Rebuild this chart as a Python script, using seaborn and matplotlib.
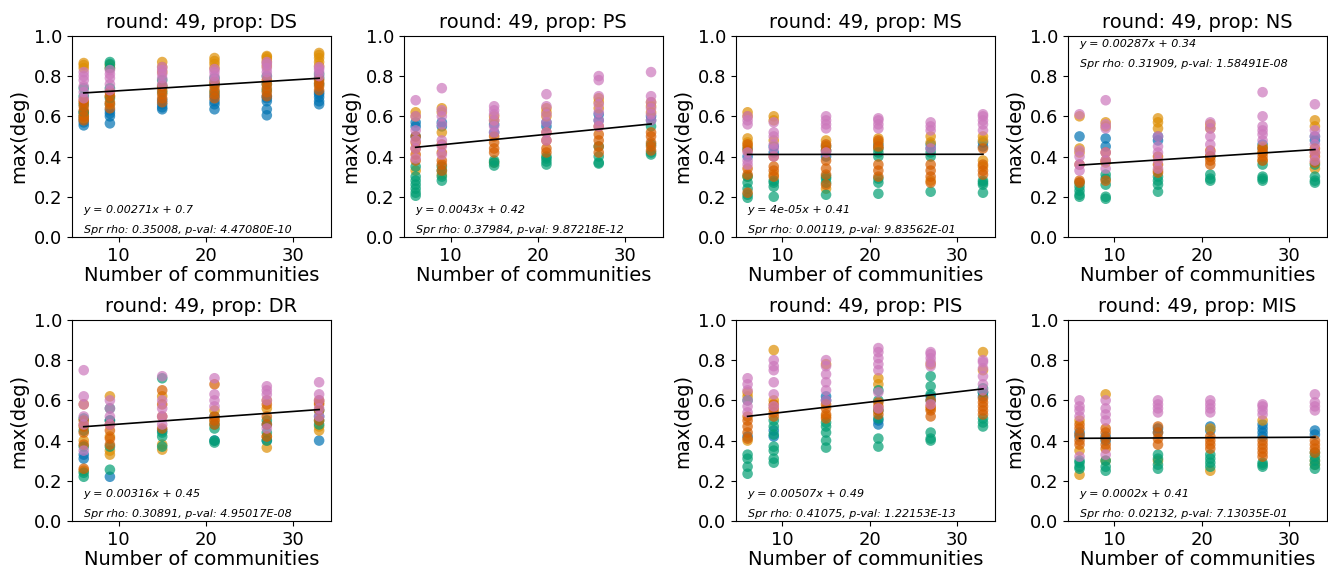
import matplotlib
matplotlib.use('Agg')
import matplotlib.pyplot as plt
import numpy as np
import pandas as pd
import seaborn as sns

# number of communities on the x axis
N_COMM = [6, 9, 15, 21, 27, 33]
SERIES = ['s1', 's2', 's3', 's4', 's5']

# max(deg) values, one sub-list per x value
DS_S1 = [[0.555, 0.57, 0.585, 0.60, 0.62], [0.565, 0.60, 0.615, 0.63, 0.66], [0.635, 0.645, 0.66, 0.68],
         [0.635, 0.66, 0.675, 0.70], [0.605, 0.635, 0.675, 0.69, 0.70], [0.66, 0.675, 0.695, 0.71, 0.72]]
DS_S2 = [[0.59, 0.61, 0.84, 0.855, 0.865], [0.66, 0.70, 0.84, 0.855], [0.82, 0.845, 0.87],
         [0.84, 0.86, 0.875, 0.89], [0.85, 0.87, 0.885, 0.895, 0.90], [0.85, 0.87, 0.89, 0.905, 0.915]]
DS_S3 = [[0.62, 0.66, 0.70, 0.74], [0.69, 0.74, 0.84, 0.86, 0.87], [0.72, 0.75, 0.78],
         [0.72, 0.76, 0.79], [0.73, 0.76, 0.80], [0.76, 0.79, 0.81]]
DS_S4 = [[0.58, 0.60, 0.63, 0.65, 0.67, 0.68], [0.64, 0.67, 0.70, 0.72], [0.67, 0.69, 0.71, 0.73, 0.75],
         [0.69, 0.71, 0.73, 0.75, 0.77], [0.70, 0.72, 0.74, 0.76, 0.78], [0.73, 0.75, 0.765, 0.78]]
DS_S5 = [[0.69, 0.72, 0.75, 0.78, 0.80, 0.82], [0.73, 0.76, 0.79, 0.81, 0.83], [0.76, 0.79, 0.81, 0.83, 0.845],
         [0.78, 0.80, 0.82, 0.835], [0.80, 0.82, 0.84, 0.86, 0.87], [0.80, 0.82, 0.835, 0.845]]

PS_S1 = [[0.50, 0.55, 0.57], [0.55, 0.57], [0.52, 0.56], [0.55, 0.57], [0.58, 0.61], [0.58, 0.60]]
PS_S2 = [[0.33, 0.60, 0.62], [0.31, 0.52, 0.62, 0.64], [0.37, 0.58, 0.60],
         [0.60, 0.62, 0.64], [0.64, 0.67, 0.69], [0.62, 0.65, 0.67]]
PS_S3 = [[0.205, 0.22, 0.24, 0.26, 0.28, 0.30, 0.35], [0.28, 0.30, 0.33, 0.35], [0.355, 0.37, 0.38],
         [0.36, 0.375, 0.39, 0.40], [0.365, 0.37, 0.40, 0.45], [0.41, 0.42, 0.46, 0.55]]
PS_S4 = [[0.38, 0.41, 0.44, 0.47, 0.50], [0.33, 0.36, 0.38, 0.42, 0.46], [0.42, 0.44, 0.47, 0.50],
         [0.42, 0.44, 0.48, 0.52], [0.42, 0.45, 0.48, 0.51, 0.55], [0.43, 0.45, 0.47, 0.50, 0.52]]
PS_S5 = [[0.39, 0.44, 0.48, 0.53, 0.60, 0.68], [0.41, 0.45, 0.48, 0.56, 0.60, 0.63, 0.74],
         [0.52, 0.55, 0.58, 0.61, 0.63, 0.65], [0.48, 0.52, 0.57, 0.61, 0.65, 0.71],
         [0.55, 0.58, 0.62, 0.66, 0.70, 0.78, 0.80], [0.58, 0.61, 0.64, 0.67, 0.70, 0.82]]

MS_S1 = [[0.40, 0.44], [0.42, 0.45], [0.40, 0.43, 0.45], [0.44, 0.46], [0.44, 0.46], [0.45, 0.47]]
MS_S2 = [[0.30, 0.45, 0.47, 0.49, 0.60, 0.62], [0.31, 0.48, 0.58, 0.60], [0.24, 0.45, 0.48],
         [0.44, 0.47, 0.49], [0.28, 0.47, 0.50], [0.35, 0.38, 0.48, 0.50]]
MS_S3 = [[0.195, 0.21, 0.24, 0.27, 0.30], [0.20, 0.25, 0.27, 0.28], [0.21, 0.27, 0.29, 0.30],
         [0.215, 0.27, 0.29, 0.40, 0.42], [0.225, 0.40, 0.42], [0.22, 0.26, 0.27, 0.28]]
MS_S4 = [[0.22, 0.31, 0.34, 0.43, 0.46], [0.30, 0.33, 0.35, 0.40], [0.26, 0.31, 0.34, 0.38, 0.43, 0.46],
         [0.30, 0.33, 0.36, 0.45, 0.48], [0.27, 0.30, 0.33, 0.36], [0.31, 0.33, 0.36, 0.44]]
MS_S5 = [[0.36, 0.38, 0.42, 0.56, 0.58, 0.60], [0.40, 0.44, 0.46, 0.50, 0.52, 0.57],
         [0.42, 0.54, 0.56, 0.58, 0.60], [0.54, 0.56, 0.58, 0.59], [0.44, 0.53, 0.55, 0.57],
         [0.53, 0.56, 0.58, 0.60, 0.61]]

NS_S1 = [[0.50], [0.45, 0.49], [0.48, 0.50], [0.40], [0.44, 0.46], [0.48, 0.50]]
NS_S2 = [[0.42, 0.44, 0.60], [0.37, 0.55, 0.57], [0.33, 0.54, 0.57, 0.59],
         [0.40, 0.54, 0.56], [0.38, 0.42, 0.45], [0.34, 0.55, 0.58]]
NS_S3 = [[0.20, 0.21, 0.23, 0.25, 0.27], [0.19, 0.20, 0.26, 0.29, 0.31], [0.225, 0.26, 0.28, 0.30],
         [0.28, 0.29, 0.31], [0.28, 0.29, 0.30, 0.36], [0.27, 0.28, 0.30, 0.36]]
NS_S4 = [[0.27, 0.28, 0.36], [0.28, 0.38, 0.42], [0.32, 0.36, 0.40],
         [0.36, 0.38, 0.40, 0.43], [0.38, 0.40, 0.42, 0.44], [0.37, 0.40, 0.42, 0.44]]
NS_S5 = [[0.33, 0.36, 0.40, 0.43, 0.61], [0.34, 0.38, 0.42, 0.54, 0.56, 0.68], [0.34, 0.38, 0.42, 0.45, 0.50],
         [0.42, 0.46, 0.50, 0.54, 0.57], [0.48, 0.51, 0.53, 0.55, 0.60, 0.72],
         [0.38, 0.42, 0.46, 0.50, 0.53, 0.66]]

DR_S1 = [[0.31, 0.33], [0.22, 0.50], [0.45], [0.40, 0.52], [0.40, 0.48], [0.40, 0.52]]
DR_S2 = [[0.25, 0.40, 0.48, 0.58], [0.33, 0.35, 0.42, 0.62], [0.355, 0.38, 0.62],
         [0.50, 0.55], [0.365, 0.42, 0.56, 0.60], [0.45, 0.47, 0.59]]
DR_S3 = [[0.22, 0.24, 0.37, 0.45, 0.51], [0.255, 0.37, 0.50, 0.56], [0.37, 0.42, 0.44, 0.71],
         [0.39, 0.40, 0.46, 0.48], [0.40, 0.44, 0.50], [0.48, 0.50, 0.55]]
DR_S4 = [[0.26, 0.38, 0.44, 0.47, 0.50], [0.38, 0.41, 0.45, 0.48], [0.46, 0.52, 0.58, 0.65],
         [0.48, 0.50, 0.52, 0.68], [0.42, 0.48, 0.52, 0.58], [0.50, 0.55, 0.58, 0.60]]
DR_S5 = [[0.35, 0.48, 0.52, 0.58, 0.62, 0.75], [0.48, 0.52, 0.56, 0.60], [0.48, 0.52, 0.56, 0.60, 0.72],
         [0.57, 0.60, 0.63, 0.71], [0.46, 0.60, 0.63, 0.65, 0.67], [0.52, 0.56, 0.60, 0.63, 0.69]]

PIS_S1 = [[0.42], [0.42, 0.45], [0.60, 0.62], [0.48, 0.50], [0.60, 0.62], [0.62, 0.64]]
PIS_S2 = [[0.40, 0.62, 0.64], [0.60, 0.85], [0.52, 0.78], [0.68, 0.71], [0.56, 0.78], [0.75, 0.84]]
PIS_S3 = [[0.235, 0.27, 0.31, 0.33, 0.60], [0.29, 0.31, 0.35, 0.37, 0.43, 0.47, 0.50],
          [0.365, 0.40, 0.44, 0.47, 0.49], [0.37, 0.41, 0.51, 0.55, 0.60, 0.65],
          [0.40, 0.41, 0.44, 0.63, 0.67, 0.72], [0.47, 0.49, 0.51, 0.64, 0.66]]
PIS_S4 = [[0.41, 0.44, 0.47, 0.50, 0.52], [0.52, 0.54, 0.56, 0.58], [0.51, 0.53, 0.56, 0.58],
          [0.53, 0.55, 0.57, 0.59], [0.52, 0.55, 0.57, 0.60], [0.53, 0.55, 0.57, 0.59, 0.61]]
PIS_S5 = [[0.54, 0.57, 0.60, 0.65, 0.68, 0.71], [0.57, 0.63, 0.69, 0.75, 0.77, 0.80],
          [0.60, 0.65, 0.69, 0.73, 0.77, 0.80], [0.56, 0.64, 0.75, 0.78, 0.81, 0.84, 0.86],
          [0.58, 0.77, 0.79, 0.81, 0.83, 0.84], [0.65, 0.68, 0.72, 0.76, 0.79, 0.80]]

MIS_S1 = [[0.42, 0.44], [0.40, 0.42], [0.44, 0.46], [0.45, 0.47], [0.42, 0.44, 0.46, 0.48], [0.43, 0.45]]
MIS_S2 = [[0.23, 0.35, 0.50], [0.30, 0.63], [0.30], [0.25, 0.46], [0.50], [0.28, 0.30]]
MIS_S3 = [[0.26, 0.27, 0.29, 0.30], [0.25, 0.27, 0.30], [0.26, 0.28, 0.31, 0.33],
          [0.27, 0.29, 0.31, 0.33], [0.27, 0.28, 0.29], [0.26, 0.28, 0.30, 0.32, 0.34]]
MIS_S4 = [[0.38, 0.40, 0.43, 0.46, 0.48], [0.36, 0.38, 0.41, 0.44, 0.46], [0.38, 0.41, 0.44, 0.47],
          [0.36, 0.38, 0.40, 0.42], [0.32, 0.34, 0.36, 0.38, 0.40], [0.34, 0.36, 0.38, 0.40]]
MIS_S5 = [[0.32, 0.52, 0.55, 0.57, 0.60], [0.33, 0.50, 0.53, 0.56, 0.60], [0.54, 0.56, 0.58, 0.60],
          [0.54, 0.56, 0.58, 0.60], [0.53, 0.55, 0.57, 0.58], [0.55, 0.57, 0.59, 0.63]]

# fitted line and stats printed in each panel
PROPS = ['DS', 'PS', 'MS', 'NS', 'DR', 'PIS', 'MIS']
SLOPES = [0.00271, 0.0043, 4e-05, 0.00287, 0.00316, 0.00507, 0.0002]
INTERCEPTS = [0.7, 0.42, 0.41, 0.34, 0.45, 0.49, 0.41]
RHOS = ['0.35008', '0.37984', '0.00119', '0.31909', '0.30891', '0.41075', '0.02132']
PVALS = ['4.47080E-10', '9.87218E-12', '9.83562E-01', '1.58491E-08', '4.95017E-08', '1.22153E-13', '7.13035E-01']

PANEL_DATA = {
    'DS': [DS_S1, DS_S2, DS_S3, DS_S4, DS_S5],
    'PS': [PS_S1, PS_S2, PS_S3, PS_S4, PS_S5],
    'MS': [MS_S1, MS_S2, MS_S3, MS_S4, MS_S5],
    'NS': [NS_S1, NS_S2, NS_S3, NS_S4, NS_S5],
    'DR': [DR_S1, DR_S2, DR_S3, DR_S4, DR_S5],
    'PIS': [PIS_S1, PIS_S2, PIS_S3, PIS_S4, PIS_S5],
    'MIS': [MIS_S1, MIS_S2, MIS_S3, MIS_S4, MIS_S5],
}


def to_frame(groups):
    """long dataframe: one row per dot"""
    rows = []
    for name, per_x in zip(SERIES, groups):
        for xv, vals in zip(N_COMM, per_x):
            for v in vals:
                rows.append((name, xv, v))
    return pd.DataFrame(rows, columns=['series', 'comm', 'deg'])


pal = sns.color_palette('colorblind', 5)

fig, axes = plt.subplots(2, 4, figsize=(13.28, 5.7), dpi=100)
fig.subplots_adjust(left=0.0542, right=0.999, bottom=0.086, top=0.937,
                    wspace=0.282, hspace=0.413)
axes[1, 1].axis('off')
slots = [axes[0, 0], axes[0, 1], axes[0, 2], axes[0, 3], axes[1, 0], axes[1, 2], axes[1, 3]]

for i, (ax, prop) in enumerate(zip(slots, PROPS)):
    df = to_frame(PANEL_DATA[prop])
    sns.scatterplot(data=df, x='comm', y='deg', hue='series', hue_order=SERIES,
                    palette=pal, s=58, alpha=0.7, linewidth=0, legend=False, ax=ax)
    xs = np.array([min(N_COMM), max(N_COMM)])
    ax.plot(xs, SLOPES[i] * xs + INTERCEPTS[i], color='black', lw=1.2)
    ax.set_ylim(0, 1)
    ax.set_title('round: 49, prop: {}'.format(prop), fontsize=14)
    ax.set_xlabel('Number of communities', fontsize=14, labelpad=1)
    ax.set_ylabel('max(deg)', fontsize=14)
    ax.tick_params(labelsize=13)

    # stats text: top for NS, bottom elsewhere
    y1, y2 = (0.96, 0.86) if prop == 'NS' else (0.135, 0.035)
    ax.text(min(N_COMM), y1, 'y = {}x + {}'.format(SLOPES[i], INTERCEPTS[i]),
            fontsize=8, style='italic', va='center')
    ax.text(min(N_COMM), y2, 'Spr rho: {}, p-val: {}'.format(RHOS[i], PVALS[i]),
            fontsize=8, style='italic', va='center')

fig.savefig('out.png', dpi=100)
